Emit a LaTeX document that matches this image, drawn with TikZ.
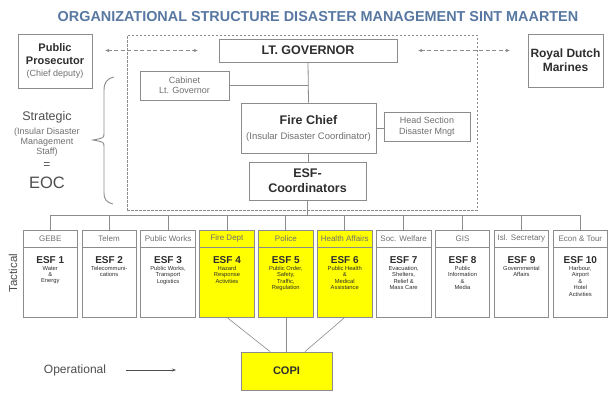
\documentclass[tikz,border=0pt]{standalone}
\usepackage{fontspec}
\setmainfont{Liberation Sans}
\usetikzlibrary{arrows.meta}

\definecolor{titleblue}{HTML}{5878A2}
\definecolor{boxgray}{HTML}{8C8C8C}
\definecolor{inkdark}{HTML}{2E2E2E}
\definecolor{inklight}{HTML}{707070}
\definecolor{esfyellow}{HTML}{FFFF00}

\newcommand\setfs[2]{\fontsize{#1}{#2}\selectfont}

\begin{document}
\begin{tikzpicture}[x=1pt,y=-1pt,
  box/.style={draw=boxgray, line width=0.8pt, fill=white, inner sep=0pt,
    align=center, text=inkdark},
  frame/.style={draw=boxgray, line width=0.8pt, dash pattern=on 2.5pt off 1.5pt,
    inner sep=0pt},
  link/.style={draw=boxgray, line width=0.8pt},
  dasharrow/.style={draw=boxgray, line width=1pt, dash pattern=on 4pt off 2.5pt,
    {Stealth[length=4pt,width=3.5pt]}-{Stealth[length=4pt,width=3.5pt]}},
  colbody/.style={box, minimum width=54.5, minimum height=87},
  colhead/.style={box, minimum width=54.5, minimum height=17,
    font=\setfs{8}{9}, text=inklight},
  esflabel/.style={inner sep=0pt, font=\setfs{10}{11}\bfseries, text=inkdark},
  esfdesc/.style={inner sep=0pt, align=center, font=\setfs{5.8}{6.4},
    text=inkdark},
  plain/.style={inner sep=0pt, align=center, text=inkdark}]

\useasboundingbox[fill=white] (0,0) rectangle (613,392);

% heading
\node[plain, text=titleblue, font=\setfs{14.4}{16}\bfseries] (title) at (318,17)
  {ORGANIZATIONAL STRUCTURE DISASTER MANAGEMENT SINT MAARTEN};

% strategic level inside the dashed frame
\node[frame, minimum width=350, minimum height=175] (frame) at (302,122.5) {};

\node[box, minimum width=74, minimum height=54, font=\setfs{11}{12.5}\bfseries]
  (pp) at (55,61)
  {Public\\Prosecutor\\\setfs{9}{10}\mdseries\color{inklight}(Chief deputy)};
\node[box, minimum width=178, minimum height=23, font=\setfs{12.5}{14}\bfseries]
  (ltg) at (308,50.5) {LT. GOVERNOR};
\node[box, minimum width=75, minimum height=53, font=\setfs{12}{14}\bfseries]
  (rdm) at (565.5,60.5) {Royal Dutch\\Marines};
\node[box, minimum width=89, minimum height=29, font=\setfs{9}{10.5}, text=inklight]
  (cab) at (184.5,85.5) {Cabinet\\Lt. Governor};
\node[box, minimum width=135, minimum height=50, font=\setfs{12.5}{15}\bfseries]
  (fc) at (308.5,128)
  {Fire Chief\\\setfs{9.5}{10}\mdseries\color{inklight}(Insular Disaster Coordinator)};
\node[box, minimum width=86, minimum height=29, font=\setfs{9}{10.5}, text=inklight]
  (hs) at (427,126.5) {Head Section\\Disaster Mngt};
\node[box, minimum width=117, minimum height=38, font=\setfs{12.5}{15}\bfseries]
  (esf) at (307.5,181) {ESF-\\Coordinators};

\draw[dasharrow, shorten <=13pt, shorten >=21pt] (pp.east |- ltg.west) -- (ltg.west);
\draw[dasharrow, shorten <=21pt, shorten >=18pt] (ltg.east) -- (ltg.east -| rdm.west);
\draw[link] (ltg.south) -- (fc.north);
\draw[link] (cab.east) -- (cab.east -| ltg.south);
\draw[link] (fc.east) -- (fc.east -| hs.west);
\draw[link] (fc.south) -- (fc.south |- esf.north);

% brace and level label on the left
\draw[boxgray, line width=0.9pt] (114,77) .. controls (106,79) and (104,83) .. (104,91)
  -- (104,133) .. controls (104,138) .. (93,140) .. controls (104,142) .. (104,147)
  -- (104,193) .. controls (104,199) and (106,202) .. (113,204);
\node[plain, font=\setfs{12.5}{14}, text=inklight!70!black] (strat) at (47,117) {Strategic};
\node[plain, font=\setfs{9}{9.8}, text=inklight] (stratsub) at (47,142)
  {(Insular Disaster\\Management\\Staff)};
\node[plain, font=\setfs{12}{14}, text=inklight!70!black] (eq) at (47,166) {=};
\node[plain, font=\setfs{16.5}{18}, text=inklight!70!black] (eoc) at (47,183) {EOC};

% tactical level: emergency support functions
\node[plain, rotate=90, font=\setfs{11.5}{13}, text=inklight!70!black] (tac) at (13,273) {Tactical};

\foreach \i/\hd/\col/\desc in {
  1/GEBE/white/{Water\\\&\\Energy},
  2/Telem/white/{Telecommuni-\\cations},
  3/Public Works/white/{Public Works,\\Transport\\Logistics},
  4/Fire Dept/esfyellow/{Hazard\\Response\\Activities},
  5/Police/esfyellow/{Public Order,\\Safety,\\Traffic,\\Regulation},
  6/Health Affairs/esfyellow/{Public Health\\\&\\Medical\\Assistance},
  7/Soc. Welfare/white/{Evacuation,\\Shelters,\\Relief \&\\Mass Care},
  8/GIS/white/{Public\\Information\\\&\\Media},
  9/Isl. Secretary/white/{Governmental\\Affairs},
  10/Econ \& Tour/white/{Harbour,\\Airport\\\&\\Hotel\\Activities}}
{
  \pgfmathsetmacro\cx{50.25+58.9*(\i-1)}
  \node[colbody, fill=\col] (b\i) at (\cx,273.5) {};
  \node[colhead, fill=\col] (h\i) at (\cx,238.5) {\hd};
  \node[esflabel] (e\i) at (\cx,260) {ESF \i};
  \node[esfdesc, anchor=north] (d\i) at (\cx,266) {\desc};
}

\coordinate (bus) at (307.5,215);
\draw[link] (esf.south) -- (bus);
\draw[link] (h1.north |- bus) -- (h10.north |- bus);
\foreach \i in {1,...,10}{
  \draw[link] (h\i.north |- bus) -- (h\i.north);
}

% operational level
\node[box, fill=esfyellow, minimum width=91, minimum height=38,
  font=\setfs{11}{13}\bfseries] (copi) at (286.5,371) {COPI};
\draw[link, line width=0.6pt] (b4.south) -- ([xshift=-16.5pt]copi.north);
\draw[link, line width=0.6pt] (b5.south) -- (b5.south |- copi.north);
\draw[link, line width=0.6pt] (b6.south) -- ([xshift=18.5pt]copi.north);

\node[plain, font=\setfs{12}{14}, text=inklight!70!black] (op) at (75,370) {Operational};
\coordinate (opend) at (176,370);
\draw[draw=inklight!70!black, line width=0.8pt, shorten <=20pt,
  -{Stealth[length=4pt,width=3pt]}] (op.east) -- (opend);

\end{tikzpicture}
\end{document}
